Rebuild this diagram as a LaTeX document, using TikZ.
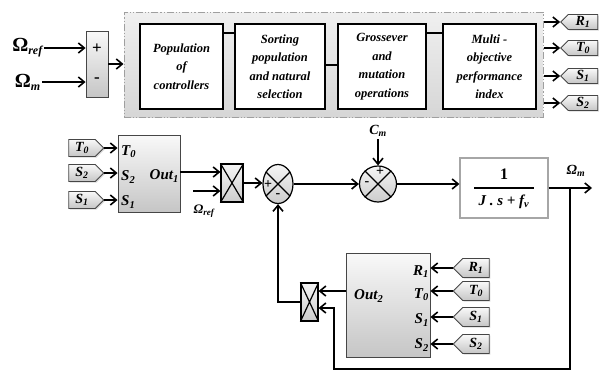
\documentclass[tikz,border=0pt]{standalone}
\usepackage{fontspec}
\setmainfont{Liberation Serif}
\usetikzlibrary{arrows.meta,shapes.geometric,shapes.symbols,shadows,calc}
\begin{document}
\begin{tikzpicture}[x=1pt,y=-1pt,
  ln/.style={line width=1.6pt},
  arr/.style={line width=1.6pt,-{Straight Barb[length=6pt,width=10pt,line width=1.6pt]}},
  wbox/.style={draw,line width=1.6pt,fill=white,align=center,inner sep=0pt,
    font=\bfseries\itshape\fontsize{12.5}{18.5}\selectfont},
  simblk/.style={draw=gray!55!black,line width=0.9pt,top color=gray!5,bottom color=gray!45,
    inner sep=0pt,drop shadow={shadow xshift=1.2pt,shadow yshift=-1.2pt,opacity=0.3}},
  tagW/.style={simblk,shape=signal,signal to=west,signal from=nowhere,
    font=\bfseries\itshape\fontsize{14}{15}\selectfont},
  tagE/.style={simblk,shape=signal,signal to=east,signal from=nowhere,
    font=\bfseries\itshape\fontsize{14}{15}\selectfont},
  lbl/.style={inner sep=0pt,font=\bfseries\itshape\fontsize{15}{16}\selectfont},
  omg/.style={inner sep=0pt,font=\bfseries\fontsize{20}{21}\selectfont},
  sgn/.style={inner sep=0pt,font=\bfseries\fontsize{14}{14}\selectfont},
  mult/.style={draw,line width=1.2pt,top color=gray!8,bottom color=gray!40,inner sep=0pt},
  sumc/.style={ellipse,draw,line width=1.2pt,top color=gray!8,bottom color=gray!40,inner sep=0pt},
]
\useasboundingbox (0,0) rectangle (610,372);

% ---------- top part ----------
\node[omg,anchor=east] (oref) at (43,48) {Ω\textsubscript{\itshape\fontsize{12}{12}\selectfont ref}};
\node[omg,anchor=east] (om) at (41,82) {Ω\textsubscript{\itshape\fontsize{12}{12}\selectfont m}};
\coordinate (orefE) at (44,48);
\coordinate (omE) at (42,82);
\node[simblk,minimum width=22pt,minimum height=66pt] (sumA) at (97,64) {};
\node[sgn,font=\bfseries\fontsize{17}{17}\selectfont] (pl) at (97,49) {+};
\node[sgn,font=\bfseries\fontsize{17}{17}\selectfont] (mi) at (97,80) {-};
\draw[arr] (orefE) -- (orefE -| sumA.west);
\draw[arr] (omE) -- (omE -| sumA.west);

\node[draw=gray!75,line width=1pt,dash pattern=on 7pt off 2pt on 1.2pt off 2pt on 1.2pt off 2pt,
  top color=gray!12,bottom color=gray!32,minimum width=419pt,minimum height=105pt] (ga) at (333.5,64.5) {};
\draw[arr] (sumA.east) -- (sumA.east -| ga.west);

\node[wbox,minimum width=83pt,minimum height=85pt] (p1) at (181.5,66.5) {Population\\of\\controllers};
\node[wbox,minimum width=90pt,minimum height=85pt] (p2) at (280,66.5) {Sorting\\population\\and natural\\selection};
\node[wbox,minimum width=88pt,minimum height=85pt] (p3) at (382,66.5) {Grossever\\and\\mutation\\operations};
\node[wbox,minimum width=93pt,minimum height=85pt] (p4) at (489.5,66.5) {Multi -\\objective\\performance\\index};
\draw[line width=2pt] ([yshift=33.5pt]p1.east) -- ([yshift=33.5pt]p2.west);
\draw[line width=2pt] ([yshift=1.5pt]p2.east) -- ([yshift=1.5pt]p3.west);
\draw[line width=2pt] ([yshift=33.5pt]p3.east) -- ([yshift=33.5pt]p4.west);

\node[tagW,minimum width=37pt,minimum height=15pt] (gR1) at (583,22) {R\textsubscript{1}};
\node[tagW,minimum width=37pt,minimum height=15pt] (gT0) at (583,48) {T\textsubscript{0}};
\node[tagW,minimum width=37pt,minimum height=15pt] (gS1) at (583,76) {S\textsubscript{1}};
\node[tagW,minimum width=37pt,minimum height=15pt] (gS2) at (583,103) {S\textsubscript{2}};
\foreach \t in {gR1,gT0,gS1,gS2}{\draw[arr] (ga.east |- \t.west) -- (\t.west);}

% ---------- middle part ----------
\node[tagE,minimum width=35pt,minimum height=17pt] (tT0) at (82,148) {T\textsubscript{0}};
\node[tagE,minimum width=35pt,minimum height=17pt] (tS2) at (82,173) {S\textsubscript{2}};
\node[tagE,minimum width=35pt,minimum height=17pt] (tS1) at (82,200) {S\textsubscript{1}};
\node[simblk,minimum width=62pt,minimum height=77pt] (o1) at (149,173.5) {};
\foreach \t in {tT0,tS2,tS1}{\draw[arr] (\t.east) -- (\t.east -| o1.west);}
\node[lbl,anchor=west] (o1T0) at (121,152) {T\textsubscript{0}};
\node[lbl,anchor=west] (o1S2) at (121,177) {S\textsubscript{2}};
\node[lbl,anchor=west] (o1S1) at (121,202) {S\textsubscript{1}};
\node[lbl,anchor=east] (o1out) at (179,176) {Out\textsubscript{1}};

\node[mult,minimum width=22pt,minimum height=38pt] (m1) at (232,183) {};
\draw[line width=1.2pt] (m1.north west) -- (m1.south east) (m1.north east) -- (m1.south west);
\draw[arr] ([yshift=1.5pt]o1.east) -- ([yshift=1.5pt]o1.east -| m1.west);
\coordinate (orefin) at (193,191);
\draw[arr] (orefin) -- (orefin -| m1.west);
\node[inner sep=0pt,font=\bfseries\itshape\fontsize{13}{15}\selectfont] (orefl) at (204,211) {Ω\textsubscript{ref}};

\node[sumc,minimum width=30pt,minimum height=39pt] (s1) at (278,184) {};
\draw[line width=1.2pt] (s1.45) -- (s1.225) (s1.135) -- (s1.315);
\node[sgn] (s1p) at (268,185) {+};
\node[sgn] (s1m) at (278,196) {-};
\draw[arr] (m1.east) -- (m1.east -| s1.west);

\node[sumc,minimum width=37pt,minimum height=36pt] (s2) at (378,184) {};
\draw[line width=1.2pt] (s2.45) -- (s2.225) (s2.135) -- (s2.315);
\node[sgn] (s2p) at (380,172) {+};
\node[sgn] (s2m) at (367,184) {-};
\draw[arr] (s1.east) -- (s1.east -| s2.west);
\node[inner sep=0pt,font=\bfseries\itshape\fontsize{14}{15}\selectfont] (cm) at (378,131) {C\textsubscript{m}};
\coordinate (cmtop) at (378,139);
\draw[arr] (cmtop) -- (s2.north);

\node[draw=gray!70,line width=1.3pt,fill=white,minimum width=88pt,minimum height=60pt,inner sep=0pt] (tf) at (504,188) {};
\node[inner sep=0pt,font=\bfseries\fontsize{16}{16}\selectfont] (tfn) at (504,174) {1};
\node[inner sep=0pt,font=\bfseries\itshape\fontsize{15}{16}\selectfont] (tfd) at (504,202) {J . s + f\textsubscript{v}};
\draw[line width=1.4pt] ([xshift=-30pt]tf.center) -- ([xshift=30pt]tf.center);
\draw[arr] (s2.east) -- (s2.east -| tf.west);
\coordinate (omout) at (592,188);
\draw[arr] (tf.east) -- (omout);
\node[inner sep=0pt,font=\bfseries\itshape\fontsize{14}{15}\selectfont] (oml) at (576,171) {Ω\textsubscript{m}};

% ---------- bottom part ----------
\node[simblk,minimum width=84pt,minimum height=104pt] (o2) at (388,305) {};
\node[lbl,anchor=west] (o2out) at (354,296) {Out\textsubscript{2}};
\node[lbl,anchor=east] (o2R1) at (429,272) {R\textsubscript{1}};
\node[lbl,anchor=east] (o2T0) at (429,295) {T\textsubscript{0}};
\node[lbl,anchor=east] (o2S1) at (429,320) {S\textsubscript{1}};
\node[lbl,anchor=east] (o2S2) at (429,345) {S\textsubscript{2}};
\node[tagW,minimum width=36pt,minimum height=19pt] (bR1) at (476,268) {R\textsubscript{1}};
\node[tagW,minimum width=36pt,minimum height=19pt] (bT0) at (476,291) {T\textsubscript{0}};
\node[tagW,minimum width=36pt,minimum height=19pt] (bS1) at (476,317) {S\textsubscript{1}};
\node[tagW,minimum width=36pt,minimum height=19pt] (bS2) at (476,344) {S\textsubscript{2}};
\foreach \t in {bR1,bT0,bS1,bS2}{\draw[arr] (\t.west) -- (\t.west -| o2.east);}

\node[mult,minimum width=17pt,minimum height=38pt] (m2) at (309.5,302) {};
\draw[line width=1.2pt] (m2.north west) -- (m2.south east) (m2.north east) -- (m2.south west);
\draw[arr] ([yshift=14pt]o2.west) -- ([yshift=11pt]m2.east);
\draw[arr] (m2.west) -| (s1.south);

\coordinate (bp) at (570,188);
\coordinate (lp1) at (334,369);
\draw[arr] (bp) |- (lp1) |- ([yshift=-6pt]m2.east);
\end{tikzpicture}
\end{document}
